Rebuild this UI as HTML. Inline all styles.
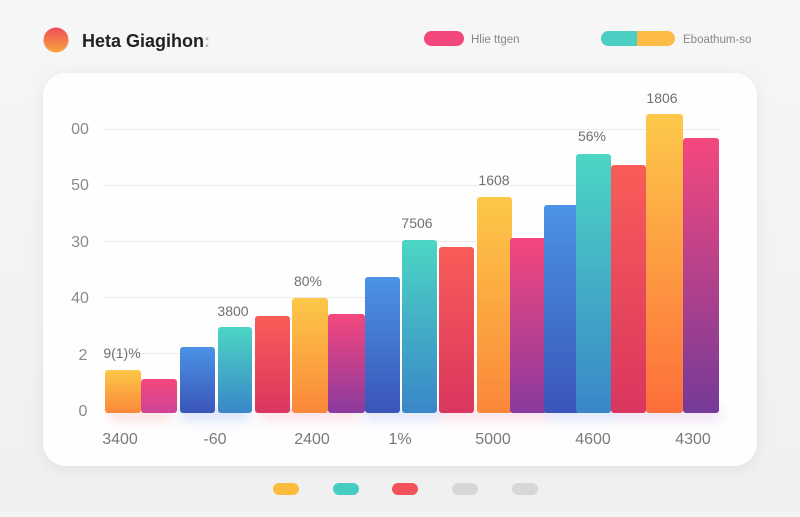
<!DOCTYPE html>
<html><head><meta charset="utf-8"><style>
html,body{margin:0;padding:0;background:#f3f3f3;}
body{width:800px;height:512px;overflow:hidden;font-family:"Liberation Sans",sans-serif;}
</style></head><body>
<svg width="800" height="512" viewBox="0 0 800 512" xmlns="http://www.w3.org/2000/svg">
<defs>
<linearGradient id="bgc" x1="0" y1="0" x2="0" y2="1"><stop offset="0" stop-color="#f6f6f6"/><stop offset="1" stop-color="#f0f0f0"/></linearGradient>
<linearGradient id="dot" x1="0" y1="0" x2="0" y2="1"><stop offset="0" stop-color="#ee4c5c"/><stop offset="1" stop-color="#f8a63a"/></linearGradient>
<linearGradient id="gY" x1="0" y1="0" x2="0" y2="1"><stop offset="0" stop-color="#fcc848"/><stop offset="1" stop-color="#fb873a"/></linearGradient>
<linearGradient id="gY2" x1="0" y1="0" x2="0" y2="1"><stop offset="0" stop-color="#fdc94a"/><stop offset="1" stop-color="#fd6e3a"/></linearGradient>
<linearGradient id="gP" x1="0" y1="0" x2="0" y2="1"><stop offset="0" stop-color="#f5477c"/><stop offset="1" stop-color="#cd4497"/></linearGradient>
<linearGradient id="gP2" x1="0" y1="0" x2="0" y2="1"><stop offset="0" stop-color="#f5477d"/><stop offset="1" stop-color="#8a3a9e"/></linearGradient>
<linearGradient id="gP3" x1="0" y1="0" x2="0" y2="1"><stop offset="0" stop-color="#f5487e"/><stop offset="1" stop-color="#753a98"/></linearGradient>
<linearGradient id="gB" x1="0" y1="0" x2="0" y2="1"><stop offset="0" stop-color="#4b93e6"/><stop offset="1" stop-color="#3a55b9"/></linearGradient>
<linearGradient id="gT" x1="0" y1="0" x2="0" y2="1"><stop offset="0" stop-color="#4cd6c4"/><stop offset="1" stop-color="#3a86c8"/></linearGradient>
<linearGradient id="gR" x1="0" y1="0" x2="0" y2="1"><stop offset="0" stop-color="#f85d58"/><stop offset="1" stop-color="#d9365f"/></linearGradient>
<filter id="sh" x="-10%" y="-10%" width="120%" height="130%"><feGaussianBlur stdDeviation="8"/></filter>
<filter id="glow" x="-20%" y="-100%" width="140%" height="300%"><feGaussianBlur stdDeviation="6"/></filter>
</defs>
<rect width="800" height="512" fill="url(#bgc)"/>
<!-- header -->
<circle cx="56" cy="40" r="12.5" fill="url(#dot)"/>
<text x="82" y="47" font-size="18" font-weight="bold" fill="#222">Heta Giagihon<tspan fill="#bbb">:</tspan></text>
<rect x="424" y="31" width="40" height="15" rx="7.5" fill="#f2477a"/>
<text x="471" y="43" font-size="11.5" fill="#888">Hlie ttgen</text>
<rect x="601" y="31" width="74" height="15" rx="7.5" fill="#fbbb45"/>
<path d="M608.5 31 H637 V46 H608.5 A7.5 7.5 0 0 1 608.5 31 Z" fill="#4ccfc2"/>
<text x="683" y="43" font-size="11.5" fill="#888">Eboathum-so</text>
<!-- card -->
<rect x="43" y="76" width="714" height="394" rx="24" fill="#000" opacity="0.06" filter="url(#sh)"/>
<rect x="43" y="73" width="714" height="393" rx="23" fill="#fefefe"/>
<!-- gridlines -->
<g stroke="#ececec" stroke-width="1">
<line x1="103" y1="129.5" x2="720" y2="129.5"/>
<line x1="103" y1="185.5" x2="720" y2="185.5"/>
<line x1="103" y1="241.5" x2="720" y2="241.5"/>
<line x1="103" y1="297.5" x2="720" y2="297.5"/>
<line x1="103" y1="353.5" x2="720" y2="353.5"/>
</g>
<g font-size="16" fill="#8a8a8a" text-anchor="middle">
<text x="80" y="134">00</text>
<text x="80" y="190">50</text>
<text x="80" y="247">30</text>
<text x="80" y="303">40</text>
<text x="83" y="360">2</text>
<text x="83" y="416">0</text>
</g>
<!-- glow under bars -->
<g filter="url(#glow)" opacity="0.35">
<rect x="110" y="408" width="60" height="12" fill="#f9a0a0"/>
<rect x="180" y="408" width="70" height="12" fill="#8aa6f0"/>
<rect x="260" y="408" width="100" height="12" fill="#f7a0b8"/>
<rect x="365" y="408" width="75" height="12" fill="#9ab0f0"/>
<rect x="440" y="408" width="110" height="12" fill="#f7a0c0"/>
<rect x="545" y="408" width="70" height="12" fill="#9ab0f0"/>
<rect x="615" y="408" width="105" height="12" fill="#d0a0e0"/>
</g>
<!-- bars -->
<g>
<rect x="105" y="370" width="36" height="43" rx="3" fill="url(#gY)"/>
<rect x="141" y="379" width="36" height="34" rx="3" fill="url(#gP)"/>
<rect x="180" y="347" width="35" height="66" rx="3" fill="url(#gB)"/>
<rect x="218" y="327" width="34" height="86" rx="3" fill="url(#gT)"/>
<rect x="255" y="316" width="35" height="97" rx="3" fill="url(#gR)"/>
<rect x="292" y="298" width="36" height="115" rx="3" fill="url(#gY)"/>
<rect x="328" y="314" width="37" height="99" rx="3" fill="url(#gP2)"/>
<rect x="365" y="277" width="35" height="136" rx="3" fill="url(#gB)"/>
<rect x="402" y="240" width="35" height="173" rx="3" fill="url(#gT)"/>
<rect x="439" y="247" width="35" height="166" rx="3" fill="url(#gR)"/>
<rect x="477" y="197" width="35" height="216" rx="3" fill="url(#gY)"/>
<rect x="510" y="238" width="37" height="175" rx="3" fill="url(#gP2)"/>
<rect x="544" y="205" width="36" height="208" rx="3" fill="url(#gB)"/>
<rect x="576" y="154" width="35" height="259" rx="3" fill="url(#gT)"/>
<rect x="611" y="165" width="35" height="248" rx="3" fill="url(#gR)"/>
<rect x="646" y="114" width="37" height="299" rx="3" fill="url(#gY2)"/>
<rect x="683" y="138" width="36" height="275" rx="3" fill="url(#gP3)"/>
</g>
<!-- value labels -->
<g font-size="14" fill="#707070" text-anchor="middle">
<text x="122" y="358">9(1)%</text>
<text x="233" y="316">3800</text>
<text x="308" y="286">80%</text>
<text x="417" y="228">7506</text>
<text x="494" y="185">1608</text>
<text x="592" y="141">56%</text>
<text x="662" y="103">1806</text>
</g>
<!-- x labels -->
<g font-size="16" fill="#7a7a7a" text-anchor="middle">
<text x="120" y="444">3400</text>
<text x="215" y="444">-60</text>
<text x="312" y="444">2400</text>
<text x="400" y="444">1%</text>
<text x="493" y="444">5000</text>
<text x="593" y="444">4600</text>
<text x="693" y="444">4300</text>
</g>
<!-- pagination dots -->
<rect x="273" y="483" width="26" height="12" rx="6" fill="#fbbb3c"/>
<rect x="333" y="483" width="26" height="12" rx="6" fill="#44cdc0"/>
<rect x="392" y="483" width="26" height="12" rx="6" fill="#f2535a"/>
<rect x="452" y="483" width="26" height="12" rx="6" fill="#d9d6d6"/>
<rect x="512" y="483" width="26" height="12" rx="6" fill="#d9d6d6"/>
</svg>
</body></html>
